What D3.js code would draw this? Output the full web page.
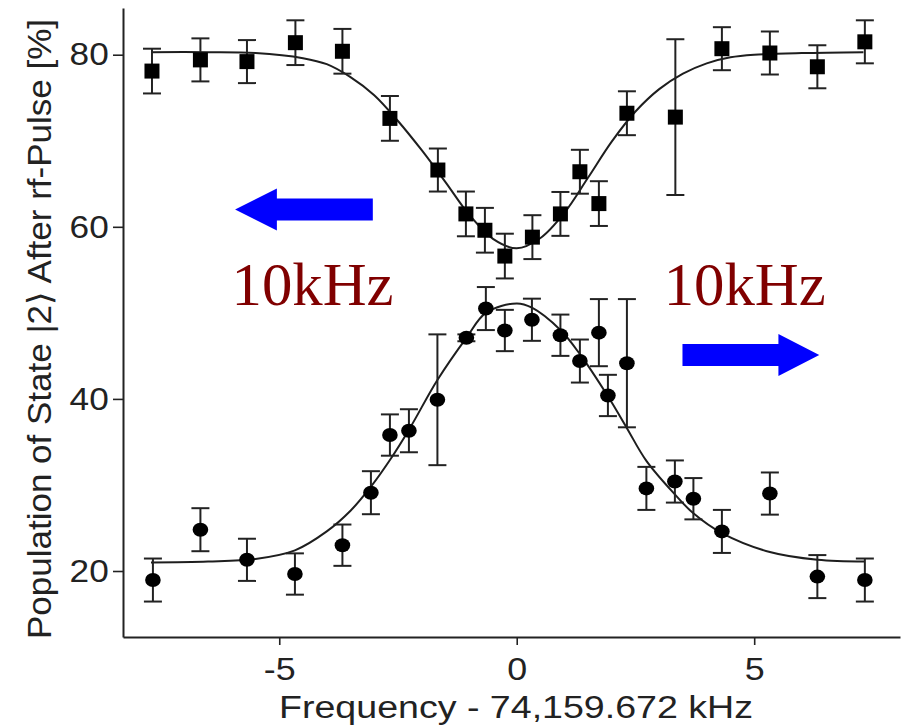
<!DOCTYPE html>
<html>
<head>
<meta charset="utf-8">
<script src="https://cdn.jsdelivr.net/npm/d3@7/dist/d3.min.js"></script>
<style>
  html, body { margin: 0; padding: 0; background: #fff; }
  svg { display: block; }
</style>
</head>
<body>
<svg id="chart" width="903" height="725"></svg>
<script>
// ---------- data ----------
const squaresX   = [-7.68, -6.66, -5.68, -4.66, -3.67, -2.67, -1.66, -1.07, -0.67, -0.25, 0.33, 0.92, 1.33, 1.73, 2.32, 3.34, 4.32, 5.33, 6.33, 7.33];
const squaresY   = [78.1, 79.4, 79.2, 81.4, 80.4, 72.6, 66.6, 61.5, 59.6, 56.6, 58.8, 61.5, 66.4, 62.7, 73.2, 72.75, 80.7, 80.2, 78.6, 81.5];
const squaresErr = [2.6, 2.5, 2.5, 2.6, 2.6, 2.6, 2.5, 2.6, 2.6, 2.6, 2.55, 2.55, 2.55, 2.6, 2.55, 9.05, 2.5, 2.5, 2.5, 2.5];

const circlesX   = [-7.66, -6.66, -5.68, -4.67, -3.67, -3.07, -2.67, -2.27, -1.67, -1.06, -0.65, -0.25, 0.32, 0.92, 1.33, 1.73, 1.92, 2.32, 2.73, 3.33, 3.72, 4.32, 5.33, 6.33, 7.33];
const circlesY   = [18.95, 24.8, 21.3, 19.65, 23.0, 29.1, 35.8, 36.3, 39.9, 47.1, 50.5, 47.95, 49.2, 47.4, 44.4, 47.7, 40.4, 44.15, 29.6, 30.4, 28.4, 24.6, 29.0, 19.35, 18.95];
const circlesErr = [2.5, 2.5, 2.45, 2.4, 2.4, 2.5, 2.4, 2.5, 7.6, 0.4, 2.5, 2.4, 2.45, 2.4, 2.5, 3.9, 2.4, 7.45, 2.5, 2.45, 2.4, 2.5, 2.45, 2.5, 2.5];

const topFitX    = [-7.7, -6.5, -5.5, -4.5, -4.0, -3.5, -3.0, -2.5, -2.0, -1.5, -1.0, -0.5, 0.0, 0.5, 1.0, 1.5, 2.0, 2.5, 3.0, 3.5, 4.0, 4.5, 5.0, 6.0, 7.3];
const topFitY    = [80.3, 80.3, 80.2, 79.6, 78.9, 77.4, 75.3, 72.3, 68.9, 65.2, 61.4, 58.6, 57.5, 58.7, 61.6, 65.7, 69.9, 73.4, 76.0, 77.8, 79.0, 79.7, 80.0, 80.2, 80.3];

const bottomFitX = [-7.7, -6.5, -5.5, -4.67, -4.0, -3.5, -3.07, -2.67, -2.25, -1.67, -1.06, -0.65, 0.0, 0.32, 0.92, 1.33, 1.92, 2.32, 2.73, 3.33, 3.72, 4.32, 5.33, 6.33, 7.33];
const bottomFitY = [21.0, 21.1, 21.4, 22.4, 24.6, 27.0, 29.8, 32.9, 36.6, 42.2, 47.1, 50.0, 51.1, 50.6, 48.0, 45.2, 40.3, 36.6, 32.8, 28.9, 26.7, 24.4, 22.2, 21.3, 21.1];

const xTicks = [-5, 0, 5];
const yTicks = [20, 40, 60, 80];
const xLabel = "Frequency - 74,159.672 kHz";
const yLabel = "Population of State |2\u27E9 After rf-Pulse [%]";
const annoText = "10kHz";
const leftArrowX  = [-3.03, -5.05, -5.93];  // shaft end, head base, tip
const leftArrowY  = 62.0;
const rightArrowX = [3.49, 5.51, 6.37];
const rightArrowY = 45.1;
const annoLeftX = -4.3, annoRightX = 4.8, annoY = 50.9;

// ---------- layout ----------
const svg = d3.select("#chart");
svg.append("rect").attr("width", 903).attr("height", 725).attr("fill", "#fff");

const x = d3.scaleLinear().domain([-8.29, 8.07]).range([123, 900]);
const y = d3.scaleLinear().domain([12.33, 85.43]).range([637, 8]);

const ink = "#222";
const sans = "'Liberation Sans', Arial, Helvetica, sans-serif";

// axes
const gx = svg.append("g").attr("transform", `translate(0,${y.range()[0]})`)
  .call(d3.axisBottom(x).tickValues(xTicks).tickFormat(d => String(d)).tickSizeInner(8).tickSizeOuter(0).tickPadding(12));
const gy = svg.append("g").attr("transform", `translate(${x.range()[0]},0)`)
  .call(d3.axisLeft(y).tickValues(yTicks).tickFormat(d => String(d)).tickSizeInner(10).tickSizeOuter(0).tickPadding(3));

[gx, gy].forEach(g => {
  g.select(".domain").attr("stroke", ink).attr("stroke-width", 2);
  g.selectAll(".tick line").attr("stroke", ink).attr("stroke-width", 1.6);
  g.selectAll(".tick text").attr("fill", ink).style("font-family", sans).style("font-size", "32px");
});
gx.selectAll(".tick text").attr("transform", "scale(1.12,1)");
gy.selectAll(".tick text").attr("transform", "scale(1.1,1)");

// axis titles
const xt = svg.append("text")
  .attr("x", 516).attr("y", 718)
  .attr("text-anchor", "middle")
  .attr("fill", ink).style("font-family", sans).style("font-size", "31px")
  .text(xLabel);
xt.attr("textLength", 474).attr("lengthAdjust", "spacingAndGlyphs");

const yt = svg.append("text")
  .attr("transform", "translate(51,329) rotate(-90)")
  .attr("text-anchor", "middle")
  .attr("fill", ink).style("font-family", sans).style("font-size", "33px")
  .text(yLabel);
yt.attr("textLength", 620).attr("lengthAdjust", "spacingAndGlyphs");

// fit curves
const line = d3.line().x(d => x(d[0])).y(d => y(d[1])).curve(d3.curveCatmullRom.alpha(0.5));
svg.append("path").datum(d3.zip(topFitX, topFitY))
  .attr("d", line).attr("fill", "none").attr("stroke", "#1e1e1e").attr("stroke-width", 2);
svg.append("path").datum(d3.zip(bottomFitX, bottomFitY))
  .attr("d", line).attr("fill", "none").attr("stroke", "#1e1e1e").attr("stroke-width", 2);

// error bars
function errorBars(xs, ys, es) {
  const data = d3.zip(xs, ys, es);
  const g = svg.append("g").attr("stroke", ink).attr("stroke-width", 2);
  g.selectAll(".v").data(data).join("line")
    .attr("x1", d => x(d[0])).attr("x2", d => x(d[0]))
    .attr("y1", d => y(d[1] - d[2])).attr("y2", d => y(d[1] + d[2]));
  const cap = 9;
  g.selectAll(".t").data(data).join("line")
    .attr("x1", d => x(d[0]) - cap).attr("x2", d => x(d[0]) + cap)
    .attr("y1", d => y(d[1] + d[2])).attr("y2", d => y(d[1] + d[2]));
  g.selectAll(".b").data(data).join("line")
    .attr("x1", d => x(d[0]) - cap).attr("x2", d => x(d[0]) + cap)
    .attr("y1", d => y(d[1] - d[2])).attr("y2", d => y(d[1] - d[2]));
}
errorBars(squaresX, squaresY, squaresErr);
errorBars(circlesX, circlesY, circlesErr);

// markers
const sq = 15;
svg.append("g").selectAll("rect").data(d3.zip(squaresX, squaresY)).join("rect")
  .attr("x", d => x(d[0]) - sq / 2).attr("y", d => y(d[1]) - sq / 2)
  .attr("width", sq).attr("height", sq).attr("fill", "#000");
svg.append("g").selectAll("ellipse").data(d3.zip(circlesX, circlesY)).join("ellipse")
  .attr("cx", d => x(d[0])).attr("cy", d => y(d[1]))
  .attr("rx", 7.8).attr("ry", 7).attr("fill", "#000");

// arrows
function arrow(xs, yv) {
  const [s, b, t] = xs.map(v => x(v));
  const cy = y(yv), hs = 11, hh = 21;
  const pts = [[s, cy - hs], [b, cy - hs], [b, cy - hh], [t, cy], [b, cy + hh], [b, cy + hs], [s, cy + hs]];
  svg.append("polygon").attr("points", pts.map(p => p.join(",")).join(" ")).attr("fill", "#0000ff");
}
arrow(leftArrowX, leftArrowY);
arrow(rightArrowX, rightArrowY);

// annotations
[annoLeftX, annoRightX].forEach(ax => {
  svg.append("text")
    .attr("x", x(ax)).attr("y", y(annoY))
    .attr("text-anchor", "middle")
    .attr("fill", "#800000")
    .style("font-family", "'Liberation Serif', 'Times New Roman', serif")
    .style("font-size", "62px")
    .attr("textLength", 162).attr("lengthAdjust", "spacingAndGlyphs")
    .text(annoText);
});
</script>
</body>
</html>
